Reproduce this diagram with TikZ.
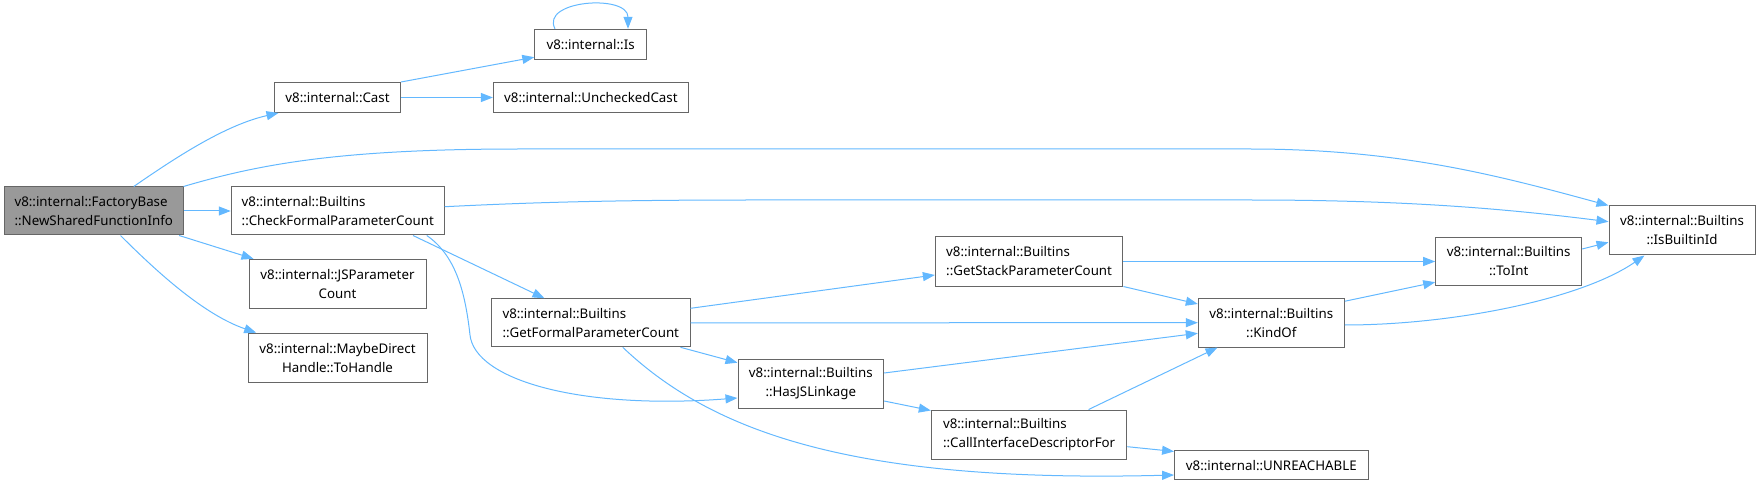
\documentclass[tikz,border=0pt]{standalone}
\usepackage{fontspec}
\setmainfont{Noto Sans}
\usetikzlibrary{arrows.meta}
\definecolor{edgec}{HTML}{63B8FF}
\definecolor{borderc}{HTML}{666666}
\definecolor{hlfill}{HTML}{999999}
\begin{document}
\begin{tikzpicture}[x=1pt,y=-1pt,
  nodebox/.style={draw=borderc, line width=1pt, fill=white, inner sep=0pt,
    font=\fontsize{13.3}{19}\selectfont, text=black},
  hl/.style={nodebox, fill=hlfill},
  edge/.style={draw=edgec, line width=1pt, -{Triangle[length=12pt,width=9pt]}}]
\useasboundingbox (0,0) rectangle (1760,486);

\node[hl, minimum width=178.5pt, minimum height=48pt, align=left] (fb) at (93.75,211)
  {v8::internal::FactoryBase\\::NewSharedFunctionInfo};
\node[nodebox, minimum width=126pt, minimum height=30pt] (cast) at (337.5,97.5) {v8::internal::Cast};
\node[nodebox, minimum width=111.6pt, minimum height=30pt] (is) at (590.6,44.3) {v8::internal::Is};
\node[nodebox, minimum width=195pt, minimum height=30pt] (unc) at (590.9,97.5) {v8::internal::UncheckedCast};
\node[nodebox, minimum width=213pt, minimum height=48pt, align=left] (cfpc) at (337.75,211)
  {v8::internal::Builtins\\::CheckFormalParameterCount};
\node[nodebox, minimum width=177pt, minimum height=49pt, align=center] (jspc) at (337.5,283.8)
  {v8::internal::JSParameter\\Count};
\node[nodebox, minimum width=179pt, minimum height=49pt, align=center] (mdh) at (337.5,357.7)
  {v8::internal::MaybeDirect\\Handle::ToHandle};
\node[nodebox, minimum width=198.5pt, minimum height=48pt, align=left] (gfpc) at (590.75,322.8)
  {v8::internal::Builtins\\::GetFormalParameterCount};
\node[nodebox, minimum width=187.5pt, minimum height=49pt, align=left] (gspc) at (1029.1,261.5)
  {v8::internal::Builtins\\::GetStackParameterCount};
\node[nodebox, minimum width=145.6pt, minimum height=48.6pt, align=center] (hjs) at (810.8,384)
  {v8::internal::Builtins\\::HasJSLinkage};
\node[nodebox, minimum width=195.6pt, minimum height=49pt, align=left] (cidf) at (1029.1,434.5)
  {v8::internal::Builtins\\::CallInterfaceDescriptorFor};
\node[nodebox, minimum width=146pt, minimum height=48.7pt, align=center] (kind) at (1271.3,322.7)
  {v8::internal::Builtins\\::KindOf};
\node[nodebox, minimum width=193.4pt, minimum height=29.3pt] (unr) at (1271.3,465.3) {v8::internal::UNREACHABLE};
\node[nodebox, minimum width=146pt, minimum height=48.4pt, align=center] (toint) at (1508.7,261.5)
  {v8::internal::Builtins\\::ToInt};
\node[nodebox, minimum width=146pt, minimum height=49pt, align=center] (ibi) at (1682,230.5)
  {v8::internal::Builtins\\::IsBuiltinId};

% edges
\draw[edge] ([xshift=40pt]fb.north) .. controls (175,158) and (225,125) .. ([xshift=4.5pt]cast.south west);
\draw[edge] (fb.north east) .. controls (260,164) and (340,149) .. (520,149) -- (1250,149)
  .. controls (1400,149) and (1500,176) .. (ibi.north west);
\draw[edge] (fb.east) -- (cfpc.west);
\draw[edge] ([xshift=-4.4pt]fb.south east) -- ([xshift=5pt]jspc.north west);
\draw[edge] ([xshift=26.75pt]fb.south) .. controls (160,275) and (205,315) .. ([xshift=8.7pt]mdh.north west);
\draw[edge] (cast.north east) -- ([yshift=2.6pt]is.south west);
\draw[edge] (cast.east) -- (unc.west);
\draw[edge] ([xshift=-35.6pt]is.north) .. controls (540,0) and (628,-6) .. ([xshift=37.4pt]is.north);
\draw[edge] ([yshift=4.3pt]cfpc.east) .. controls (520,203) and (600,200) .. (750,200) -- (1250,200)
  .. controls (1400,200) and (1500,208) .. ([yshift=8.8pt]ibi.west);
\draw[edge] ([xshift=75.25pt]cfpc.south) -- ([xshift=53.5pt]gfpc.north west);
\draw[edge] ([xshift=89pt]cfpc.south) .. controls (455,255) and (465,290) .. (470,335)
  .. controls (475,380) and (580,410) .. ([yshift=-14pt]hjs.west);
\draw[edge] ([yshift=14.5pt]gfpc.east) -- ([yshift=-13.5pt]gspc.west);
\draw[edge] (gfpc.east) -- (kind.west);
\draw[edge] ([xshift=-10pt]gfpc.south east) -- ([yshift=-3.5pt]hjs.north west);
\draw[edge] ([xshift=32pt]gfpc.south) .. controls (715,435) and (860,483) .. ([yshift=-9.7pt]unr.west);
\draw[edge] (gspc.east) -- (toint.west);
\draw[edge] (gspc.south east) -- ([yshift=18.7pt]kind.west);
\draw[edge] ([yshift=11pt]hjs.east) -- ([yshift=-10.6pt]kind.west);
\draw[edge] ([yshift=-17pt]hjs.east) -- ([yshift=-1pt]cidf.north west);
\draw[edge] ([xshift=59.5pt]cidf.north) -- ([xshift=19.7pt]kind.south west);
\draw[edge] ([yshift=-12.2pt]cidf.east) -- ([yshift=-1.3pt]unr.north west);
\draw[edge] ([yshift=-3.4pt]kind.north east) -- ([yshift=4pt]toint.south west);
\draw[edge] ([yshift=-2.3pt]kind.east) .. controls (1450,325) and (1580,300) .. ([xshift=36pt]ibi.south west);
\draw[edge] ([yshift=12.5pt]toint.east) -- ([yshift=-11.8pt]ibi.west);
\end{tikzpicture}
\end{document}
